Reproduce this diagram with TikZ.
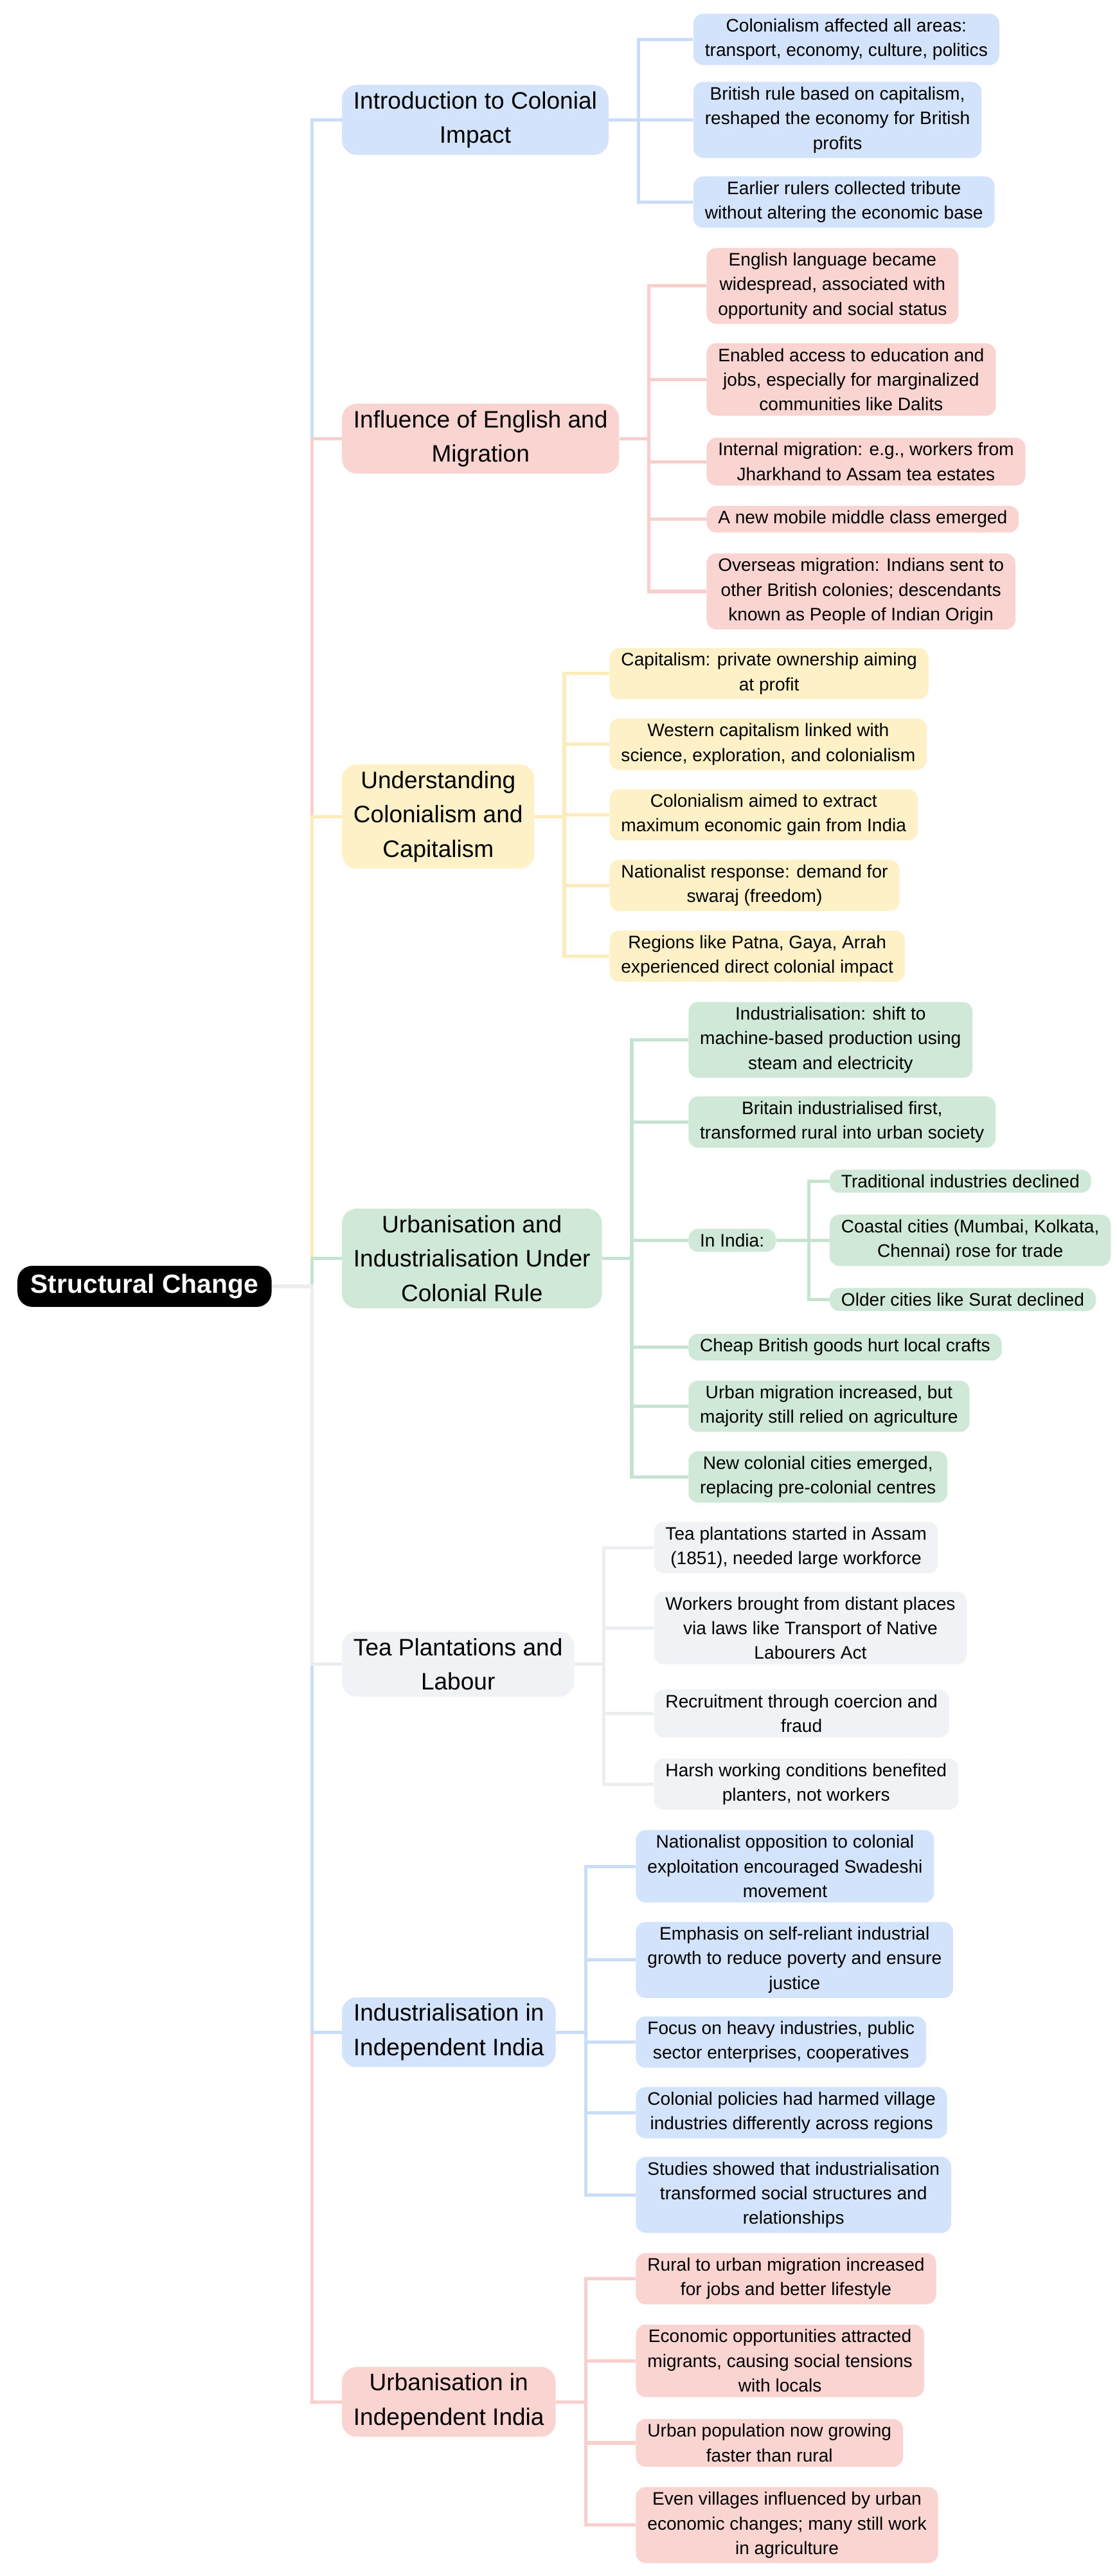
\documentclass[tikz,border=0pt]{standalone}
\usepackage{fontspec}
\setmainfont{Liberation Sans}
\usepackage{tikz}
\usetikzlibrary{positioning}
\definecolor{cblue}{HTML}{D3E3FB}
\definecolor{cred}{HTML}{FAD4D0}
\definecolor{cyel}{HTML}{FFF1C7}
\definecolor{cgreen}{HTML}{CFE8D7}
\definecolor{cgray}{HTML}{F1F2F5}
\definecolor{lblue}{HTML}{C9DCF8}
\definecolor{lred}{HTML}{F8CFCA}
\definecolor{lyel}{HTML}{FCEBBB}
\definecolor{lgreen}{HTML}{C5E3CF}
\definecolor{lgray}{HTML}{ECEDF0}

\begin{document}
\begin{tikzpicture}[
  x=1pt, y=-1pt,
  root/.style={fill=black, text=white, rounded corners=9pt, inner xsep=8pt,
               inner ysep=5pt, font=\fontsize{16}{20}\selectfont\bfseries},
  topic/.style={anchor=west, rounded corners=9pt, align=center, inner xsep=7pt,
                inner ysep=4pt, font=\fontsize{14.5}{21}\selectfont},
  leaf/.style={anchor=west, rounded corners=6pt, align=center, inner xsep=7pt,
               inner ysep=3pt, font=\fontsize{11}{15}\selectfont},
  link/.style={line width=2pt},
]
  \useasboundingbox (0,0) rectangle (680,1568);

  % root and topics
  \node[root] (sc) at (88,783) {Structural Change};
  \node[topic, fill=cblue] (intro) at (208,73) {Introduction to Colonial\\Impact};
  \node[topic, fill=cred] (eng) at (208,267) {Influence of English and\\Migration};
  \node[topic, fill=cyel] (cap) at (208,497) {Understanding\\Colonialism and\\Capitalism};
  \node[topic, fill=cgreen] (urb) at (208,766) {Urbanisation and\\Industrialisation Under\\Colonial Rule};
  \node[topic, fill=cgray] (tea) at (208,1013) {Tea Plantations and\\Labour};
  \node[topic, fill=cblue] (indind) at (208,1237) {Industrialisation in\\Independent India};
  \node[topic, fill=cred] (urbind) at (208,1462) {Urbanisation in\\Independent India};

  % introduction
  \node[leaf, fill=cblue] (intro1) at (422,24) {Colonialism affected all areas:\\transport, economy, culture, politics};
  \node[leaf, fill=cblue] (intro2) at (422,73) {British rule based on capitalism,\\reshaped the economy for British\\profits};
  \node[leaf, fill=cblue] (intro3) at (422,123) {Earlier rulers collected tribute\\without altering the economic base};

  % english and migration
  \node[leaf, fill=cred] (eng1) at (430,174) {English language became\\widespread, associated with\\opportunity and social status};
  \node[leaf, fill=cred] (eng2) at (430,231) {Enabled access to education and\\jobs, especially for marginalized\\communities like Dalits};
  \node[leaf, fill=cred] (eng3) at (430,281) {Internal migration: e.g., workers from\\Jharkhand to Assam tea estates};
  \node[leaf, fill=cred] (eng4) at (430,316) {A new mobile middle class emerged};
  \node[leaf, fill=cred] (eng5) at (430,360) {Overseas migration: Indians sent to\\other British colonies; descendants\\known as People of Indian Origin};

  % capitalism
  \node[leaf, fill=cyel] (cap1) at (371,410) {Capitalism: private ownership aiming\\at profit};
  \node[leaf, fill=cyel] (cap2) at (371,453) {Western capitalism linked with\\science, exploration, and colonialism};
  \node[leaf, fill=cyel] (cap3) at (371,496) {Colonialism aimed to extract\\maximum economic gain from India};
  \node[leaf, fill=cyel] (cap4) at (371,539) {Nationalist response: demand for\\swaraj (freedom)};
  \node[leaf, fill=cyel] (cap5) at (371,582) {Regions like Patna, Gaya, Arrah\\experienced direct colonial impact};

  % urbanisation under colonial rule
  \node[leaf, fill=cgreen] (urb1) at (419,633) {Industrialisation: shift to\\machine-based production using\\steam and electricity};
  \node[leaf, fill=cgreen] (urb2) at (419,683) {Britain industrialised first,\\transformed rural into urban society};
  \node[leaf, fill=cgreen] (urb3) at (419,755) {In India:};
  \node[leaf, fill=cgreen] (urb4) at (419,820) {Cheap British goods hurt local crafts};
  \node[leaf, fill=cgreen] (urb5) at (419,856) {Urban migration increased, but\\majority still relied on agriculture};
  \node[leaf, fill=cgreen] (urb6) at (419,899) {New colonial cities emerged,\\replacing pre-colonial centres};
  \node[leaf, fill=cgreen] (ind1) at (505,719) {Traditional industries declined};
  \node[leaf, fill=cgreen] (ind2) at (505,755) {Coastal cities (Mumbai, Kolkata,\\Chennai) rose for trade};
  \node[leaf, fill=cgreen] (ind3) at (505,791) {Older cities like Surat declined};

  % tea plantations
  \node[leaf, fill=cgray] (tea1) at (398,942) {Tea plantations started in Assam\\(1851), needed large workforce};
  \node[leaf, fill=cgray] (tea2) at (398,991) {Workers brought from distant places\\via laws like Transport of Native\\Labourers Act};
  \node[leaf, fill=cgray] (tea3) at (398,1043) {Recruitment through coercion and\\fraud};
  \node[leaf, fill=cgray] (tea4) at (398,1086) {Harsh working conditions benefited\\planters, not workers};

  % industrialisation in independent india
  \node[leaf, fill=cblue] (indind1) at (387,1136) {Nationalist opposition to colonial\\exploitation encouraged Swadeshi\\movement};
  \node[leaf, fill=cblue] (indind2) at (387,1193) {Emphasis on self-reliant industrial\\growth to reduce poverty and ensure\\justice};
  \node[leaf, fill=cblue] (indind3) at (387,1243) {Focus on heavy industries, public\\sector enterprises, cooperatives};
  \node[leaf, fill=cblue] (indind4) at (387,1286) {Colonial policies had harmed village\\industries differently across regions};
  \node[leaf, fill=cblue] (indind5) at (387,1336) {Studies showed that industrialisation\\transformed social structures and\\relationships};

  % urbanisation in independent india
  \node[leaf, fill=cred] (urbind1) at (387,1387) {Rural to urban migration increased\\for jobs and better lifestyle};
  \node[leaf, fill=cred] (urbind2) at (387,1437) {Economic opportunities attracted\\migrants, causing social tensions\\with locals};
  \node[leaf, fill=cred] (urbind3) at (387,1487) {Urban population now growing\\faster than rural};
  \node[leaf, fill=cred] (urbind4) at (387,1537) {Even villages influenced by urban\\economic changes; many still work\\in agriculture};

  % trunk
  \coordinate (trunk) at (190,783);
  \foreach \t/\c in {intro/lblue, eng/lred, cap/lyel, urb/lgreen,
                     urbind/lred, indind/lblue, tea/lgray}
    \draw[link, \c] (sc.east) -- (trunk) |- (\t.west);

  % branches
  \foreach \n in {1,2,3}
    \draw[link, lblue] (intro.east) -- ++(18,0) |- (intro\n.west);
  \foreach \n in {1,...,5}
    \draw[link, lred] (eng.east) -- ++(18,0) |- (eng\n.west);
  \foreach \n in {1,...,5}
    \draw[link, lyel] (cap.east) -- ++(18,0) |- (cap\n.west);
  \foreach \n in {1,...,6}
    \draw[link, lgreen] (urb.east) -- ++(18,0) |- (urb\n.west);
  \foreach \n in {1,2,3}
    \draw[link, lgreen] (urb3.east) -- ++(20,0) |- (ind\n.west);
  \foreach \n in {1,...,4}
    \draw[link, lgray] (tea.east) -- ++(18,0) |- (tea\n.west);
  \foreach \n in {1,...,5}
    \draw[link, lblue] (indind.east) -- ++(18,0) |- (indind\n.west);
  \foreach \n in {1,...,4}
    \draw[link, lred] (urbind.east) -- ++(18,0) |- (urbind\n.west);
\end{tikzpicture}
\end{document}
